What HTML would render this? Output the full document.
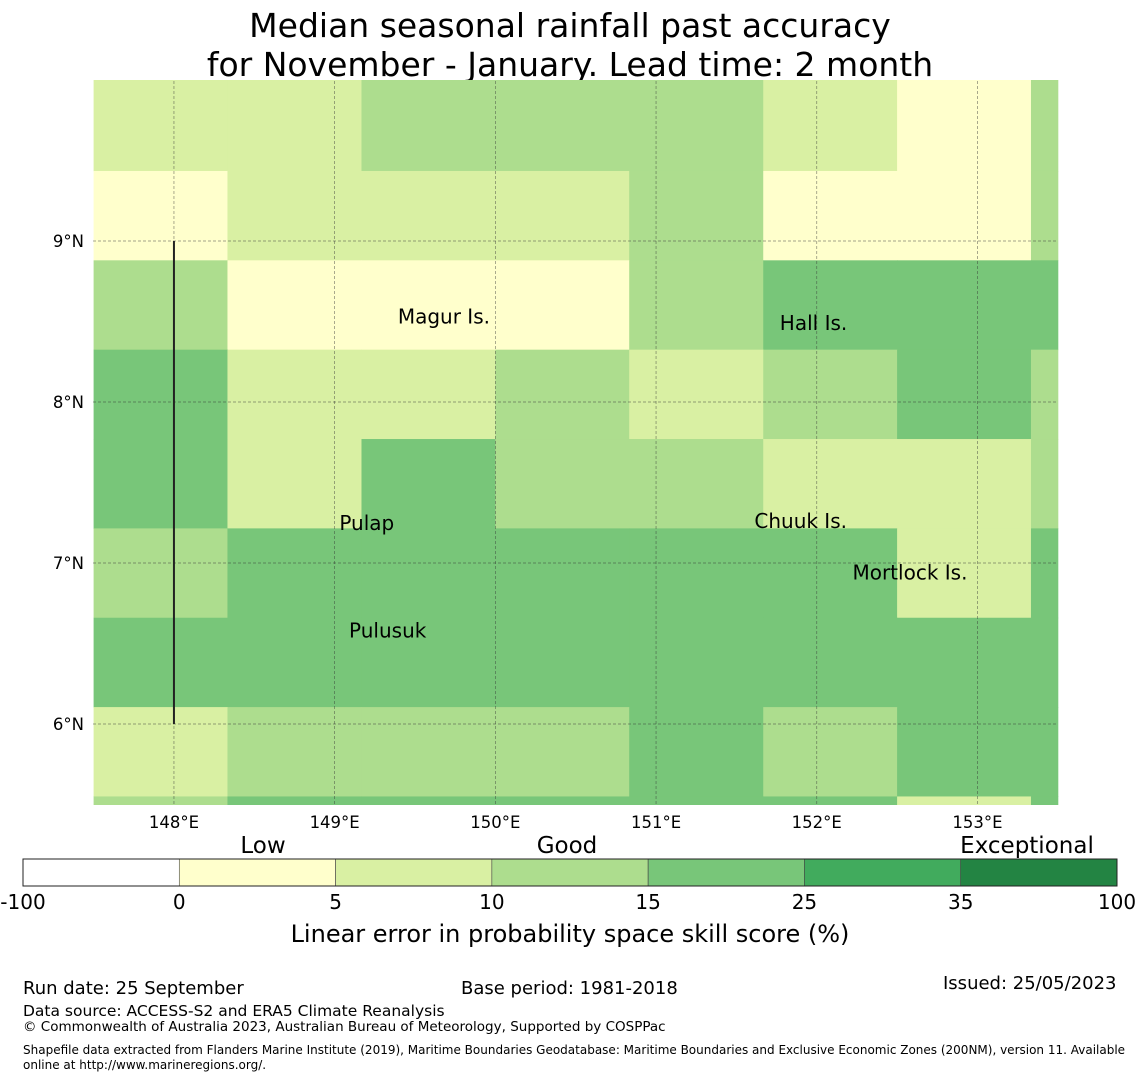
<!DOCTYPE html>
<html><head><meta charset="utf-8"><style>
body{margin:0;background:#fff;font-family:"Liberation Sans","DejaVu Sans",sans-serif;}
svg text{font-family:"DejaVu Sans","Liberation Sans",sans-serif;}
</style></head><body>
<svg id="chart" width="1140" height="1080" viewBox="0 0 1140 1080">
<text x="570" y="37" font-size="33" text-anchor="middle">Median seasonal rainfall past accuracy</text>
<text x="570" y="76" font-size="33" text-anchor="middle">for November - January. Lead time: 2 month</text>
<g id="map"></g>
<g id="cbar"></g>
<text x="570" y="942" font-size="24" text-anchor="middle">Linear error in probability space skill score (%)</text>
<g font-size="18">
<text x="23" y="994">Run date: 25 September</text>
<text x="461" y="994">Base period: 1981-2018</text>
<text x="943" y="989">Issued: 25/05/2023</text>
<text x="23" y="1016" font-size="15.5">Data source: ACCESS-S2 and ERA5 Climate Reanalysis</text>
<text x="23" y="1031" font-size="13.5">© Commonwealth of Australia 2023, Australian Bureau of Meteorology, Supported by COSPPac</text>
<text x="23" y="1054" font-size="12">Shapefile data extracted from Flanders Marine Institute (2019), Maritime Boundaries Geodatabase: Maritime Boundaries and Exclusive Economic Zones (200NM), version 11. Available</text>
<text x="23" y="1069" font-size="12">online at http://www.marineregions.org/.</text>
</g>
</svg>
<script>
const lonEdges=[147.5,148.333,149.167,150,150.833,151.667,152.5,153.333,153.5];
const latEdges=[10,9.435,8.88,8.325,7.77,7.215,6.66,6.105,5.55,5.5];
const row0=[7,7,12,12,12,7,3,12];
const row1=[3,7,7,7,12,3,3,12];
const row2=[12,3,3,3,12,20,20,20];
const row3=[20,7,7,12,7,12,20,12];
const row4=[20,7,20,12,12,7,7,12];
const row5=[12,20,20,20,20,20,7,20];
const row6=[20,20,20,20,20,20,20,20];
const row7=[7,12,12,12,20,12,20,20];
const row8=[12,20,20,20,20,20,7,20];
const rows=[row0,row1,row2,row3,row4,row5,row6,row7,row8];
const bounds=[-100,0,5,10,15,25,35,100];
const colors=['#ffffff','#ffffcc','#d9f0a3','#addd8e','#78c679','#41ab5d','#238443'];
const lonTicks=[148,149,150,151,152,153];
const latTicks=[9,8,7,6];
const islands=[["Magur Is.",149.68,8.53],["Hall Is.",151.98,8.49],["Pulap",149.2,7.25],["Chuuk Is.",151.9,7.26],["Mortlock Is.",152.58,6.94],["Pulusuk",149.33,6.58]];
const X=lon=>93.6+(lon-147.5)*160.7;
const Y=lat=>241-(lat-9)*161;
const NS='http://www.w3.org/2000/svg';
function mk(t,a,p){const e=document.createElementNS(NS,t);for(const k in a)e.setAttribute(k,a[k]);p.appendChild(e);return e;}
function col(v){for(let i=bounds.length-2;i>=0;i--)if(v>=bounds[i])return colors[i];return colors[0];}
const map=document.getElementById('map');
rows.forEach((r,ri)=>r.forEach((v,ci)=>{
 const e=mk('rect',{x:X(lonEdges[ci]),y:Y(latEdges[ri]),width:X(lonEdges[ci+1])-X(lonEdges[ci])+0.5,height:Y(latEdges[ri+1])-Y(latEdges[ri])+0.5,fill:col(v)},map);
 
 
}));
lonTicks.forEach(l=>{
 const g=mk('line',{x1:X(l),x2:X(l),y1:81,y2:805,stroke:'#333','stroke-width':0.7,'stroke-dasharray':'3,2','stroke-opacity':0.6},map);
 
 
 const t=mk('text',{x:X(l),y:828,'font-size':16.5,'text-anchor':'middle'},map);t.textContent=l+'°E';
 
 
});
latTicks.forEach(l=>{
 const g=mk('line',{x1:93,x2:1058,y1:Y(l),y2:Y(l),stroke:'#333','stroke-width':0.7,'stroke-dasharray':'3,2','stroke-opacity':0.6},map);
 
 
 const t=mk('text',{x:84,y:Y(l)+6,'font-size':16.5,'text-anchor':'end'},map);t.textContent=l+'°N';
 
 
});
const bl=mk('line',{x1:X(148),x2:X(148),y1:Y(9),y2:Y(6),stroke:'#222','stroke-width':2},map);


islands.forEach(d=>{
 const t=mk('text',{x:X(d[1]),y:Y(d[2])+7,'font-size':20,'text-anchor':'middle'},map);t.textContent=d[0];
 
 
});
const cb=document.getElementById('cbar');
const cw=(1117-23)/colors.length;
colors.forEach((c,i)=>{
 const r=mk('rect',{x:23+i*cw,y:859,width:cw,height:27,fill:c,stroke:'#444','stroke-width':0.6},cb);
 
 
});
mk('rect',{x:23,y:859,width:1094,height:27,fill:'none',stroke:'#222','stroke-width':1},cb);
bounds.forEach((b,i)=>{
 const t=mk('text',{x:23+i*cw,y:909,'font-size':20,'text-anchor':'middle'},cb);t.textContent=b;
 
 
});
[["Low",263],["Good",567],["Exceptional",1027]].forEach(d=>{
 const t=mk('text',{x:d[1],y:853,'font-size':23,'text-anchor':'middle'},cb);t.textContent=d[0];
 
 
});
</script>
</body></html>
